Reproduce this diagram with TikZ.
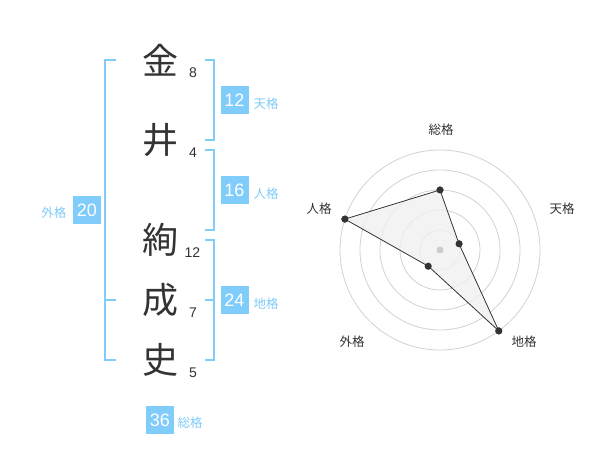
\documentclass[tikz,border=0pt]{standalone}
\usepackage{fontspec}
\setmainfont{Liberation Sans}
\newfontfamily\cjk{Noto Sans CJK JP}
\definecolor{kblue}{RGB}{128,204,250}
\definecolor{klabel}{RGB}{128,204,250}
\definecolor{darkc}{RGB}{51,51,51}
\definecolor{ringc}{RGB}{210,210,210}
\definecolor{fillg}{RGB}{240,240,240}
\definecolor{centerc}{RGB}{204,204,204}
\begin{document}
\begin{tikzpicture}[x=1pt,y=-1pt,
  kanji/.style={font=\cjk\fontsize{36}{36}\selectfont, text=darkc, inner sep=0pt},
  strokenum/.style={font=\fontsize{14}{14}\selectfont, text=darkc, inner sep=0pt},
  scorebox/.style={fill=kblue, text=white, minimum width=28pt, minimum height=28pt, inner sep=0pt, font=\fontsize{18}{18}\selectfont},
  kaku/.style={font=\cjk\fontsize{12.5}{12.5}\selectfont, text=klabel, inner sep=0pt},
  bracket/.style={draw=kblue, line width=2pt},
  ringline/.style={draw=ringc, line width=0.8pt},
  dotpt/.style={circle, fill=darkc, inner sep=0pt, minimum size=7pt},
  axislabel/.style={font=\cjk\fontsize{12.5}{12.5}\selectfont, text=darkc, inner sep=0pt}]
\useasboundingbox[fill=white] (0,0) rectangle (600,470);

% kanji
\node[kanji] (k1) at (160,60) {金};
\node[kanji] (k2) at (160,140) {井};
\node[kanji] (k3) at (160,240) {絢};
\node[kanji] (k4) at (160,300) {成};
\node[kanji] (k5) at (160,360) {史};

% stroke counts
\node[strokenum] (n1) at (193,72.5) {8};
\node[strokenum] (n2) at (193,153) {4};
\node[strokenum] (n3) at (192.5,252.5) {12};
\node[strokenum] (n4) at (193,312.5) {7};
\node[strokenum] (n5) at (193,373) {5};

% brackets
\draw[bracket] (205,60) -- (214,60) -- (214,140) -- (205,140);
\draw[bracket] (205,150) -- (214,150) -- (214,230) -- (205,230);
\draw[bracket] (205,240) -- (214,240) -- (214,360) -- (205,360);
\draw[bracket] (205,300) -- (214,300);
\draw[bracket] (116,60) -- (105,60) -- (105,360) -- (116,360);
\draw[bracket] (105,300) -- (116,300);

% scores
\node[scorebox] (s1) at (234.5,100.5) {12};
\node[kaku] (l1) at (266,104) {天格};
\node[scorebox] (s2) at (234.5,190.5) {16};
\node[kaku] (l2) at (266,193.5) {人格};
\node[scorebox] (s3) at (234.5,300) {24};
\node[kaku] (l3) at (266,304) {地格};
\node[scorebox] (s4) at (87,210) {20};
\node[kaku] (l4) at (54,213) {外格};
\node[scorebox] (s5) at (160,420) {36};
\node[kaku] (l5) at (190,423) {総格};

% radar chart
\coordinate (rc) at (440,250);
\foreach \r in {20,40,60,80,100}
  \draw[ringline] (rc) circle[radius=\r];
\node[dotpt] (p1) at (440,190) {};
\node[dotpt] (p2) at (459.02,243.82) {};
\node[dotpt] (p3) at (498.78,330.90) {};
\node[dotpt] (p4) at (428.24,266.18) {};
\node[dotpt] (p5) at (344.89,219.10) {};
\draw[fill=fillg, fill opacity=0.8, draw=darkc, line width=0.8pt]
  (p1.center) -- (p2.center) -- (p3.center) -- (p4.center) -- (p5.center) -- cycle;
\node[circle, fill=centerc, inner sep=0pt, minimum size=7pt] (cdot) at (rc) {};
\foreach \p in {p1,p2,p3,p4,p5}
  \fill[darkc] (\p) circle[radius=3.5];

\node[axislabel] (a1) at (441,130) {総格};
\node[axislabel] (a2) at (562,209) {天格};
\node[axislabel] (a3) at (524,342) {地格};
\node[axislabel] (a4) at (352,342) {外格};
\node[axislabel] (a5) at (319,209) {人格};
\end{tikzpicture}
\end{document}
